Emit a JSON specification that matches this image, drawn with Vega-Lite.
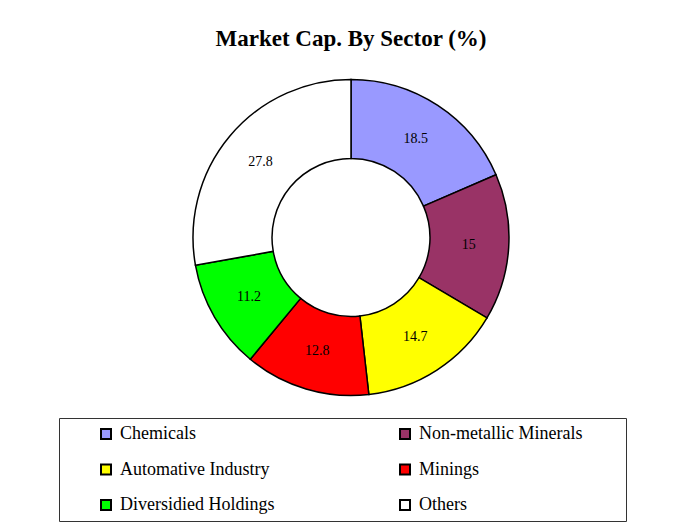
{
  "$schema": "https://vega.github.io/schema/vega-lite/v6.json",
  "width": 678,
  "height": 355,
  "autosize": {"type": "none"},
  "padding": {"left": 12, "top": 60, "right": 0, "bottom": 117},
  "background": "white",
  "title": {
    "text": "Market Cap. By Sector (%)",
    "font": "Liberation Serif",
    "fontSize": 23,
    "fontWeight": "bold",
    "color": "black",
    "frame": "group",
    "anchor": "middle",
    "offset": 9
  },
  "data": {
    "values": [
      {"sector": "Chemicals", "value": 18.5, "ord": 1},
      {"sector": "Non-metallic Minerals", "value": 15, "ord": 2},
      {"sector": "Automative Industry", "value": 14.7, "ord": 3},
      {"sector": "Minings", "value": 12.8, "ord": 4},
      {"sector": "Diversidied Holdings", "value": 11.2, "ord": 5},
      {"sector": "Others", "value": 27.8, "ord": 6}
    ]
  },
  "encoding": {
    "theta": {"field": "value", "type": "quantitative", "stack": true},
    "order": {"field": "ord", "type": "quantitative"}
  },
  "layer": [
    {
      "mark": {"type": "arc", "innerRadius": 79, "outerRadius": 158, "stroke": "black", "strokeWidth": 1.5},
      "encoding": {
        "color": {
          "field": "sector",
          "type": "nominal",
          "scale": {
            "domain": ["Chemicals", "Automative Industry", "Diversidied Holdings", "Non-metallic Minerals", "Minings", "Others"],
            "range": ["#9999FF", "#FFFF00", "#00FF00", "#993366", "#FF0000", "#FFFFFF"]
          },
          "legend": {
            "title": " ",
            "titleOrient": "right",
            "titleFontSize": 2,
            "titlePadding": 37,
            "orient": "none",
            "legendX": 47,
            "legendY": 358,
            "columns": 2,
            "gridAlign": "each",
            "columnPadding": 90,
            "rowPadding": 17.5,
            "padding": 7,
            "symbolOffset": 31,
            "symbolType": "square",
            "symbolSize": 100,
            "symbolStrokeColor": "black",
            "symbolStrokeWidth": 2,
            "labelFont": "Liberation Serif",
            "labelFontSize": 18,
            "labelColor": "black",
            "labelOffset": 5,
            "labelLimit": 0,
            "strokeColor": "#333333",
            "fillColor": "white",
            "encode": {
              "labels": {"update": {"font": {"value": "Liberation Serif"}, "fontSize": {"value": 18}}}
            }
          }
        }
      }
    },
    {
      "mark": {"type": "text", "radius": 118, "font": "Liberation Serif", "fontSize": 14, "color": "black"},
      "encoding": {"text": {"field": "value", "type": "nominal"}}
    }
  ],
  "config": {
    "view": {"stroke": null},
    "font": "Liberation Serif",
    "legend": {"labelFont": "Liberation Serif", "labelFontSize": 18, "labelColor": "black"}
  }
}
